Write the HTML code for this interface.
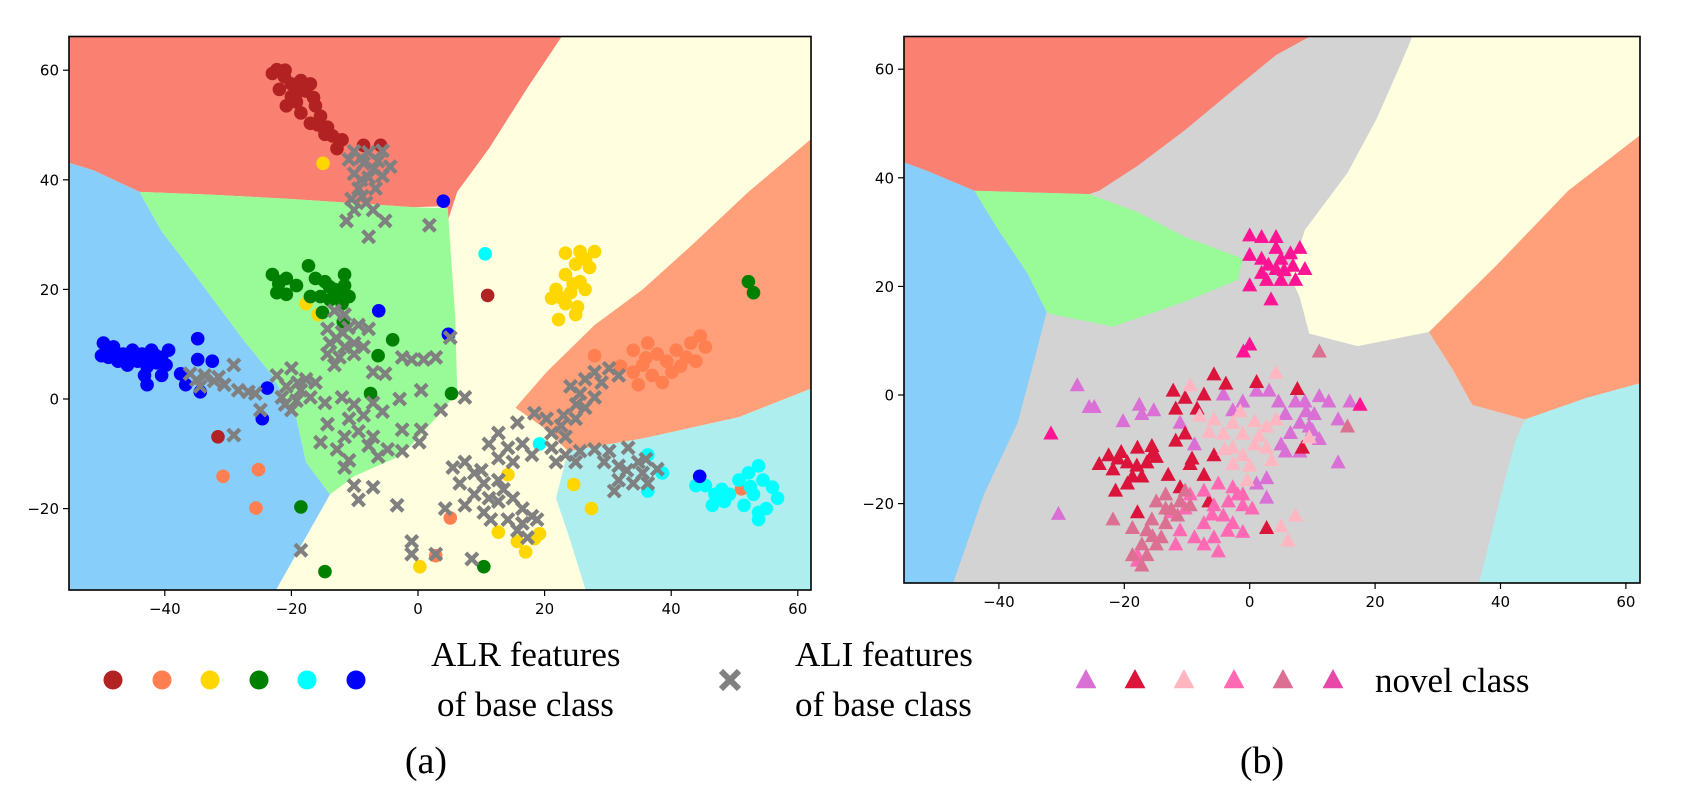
<!DOCTYPE html>
<html><head><meta charset="utf-8"><style>
html,body{margin:0;padding:0;background:#fff;}
svg{display:block;}
.tk{font-family:"DejaVu Sans","Liberation Sans",sans-serif;font-size:15px;fill:#000;}
.lg{font-family:"Liberation Serif",serif;font-size:35px;fill:#000;}
</style></head><body>
<svg id="fig" width="1691" height="797" viewBox="0 0 1691 797" xmlns="http://www.w3.org/2000/svg">
<defs>
<clipPath id="clipA"><rect x="69" y="36.5" width="742" height="553.5"/></clipPath>
<clipPath id="clipB"><rect x="904" y="36.5" width="736" height="546.5"/></clipPath>
</defs>
<g id="panelA"></g>
<g id="panelB"></g>
<g id="legend">
  <text class="lg" x="431" y="666">ALR features</text>
  <text class="lg" x="437" y="716">of base class</text>
  <text class="lg" x="795" y="666">ALI features</text>
  <text class="lg" x="795" y="716">of base class</text>
  <text class="lg" x="1375" y="692">novel class</text>
  <text class="lg" x="426" y="773" text-anchor="middle" style="font-size:38px">(a)</text>
  <text class="lg" x="1262" y="773" text-anchor="middle" style="font-size:38px">(b)</text>
</g>
</svg>
<script>
// ---------- data ----------
const xTicks = [-40,-20,0,20,40,60];
const yTicks = [60,40,20,0,-20];
const yTickLabels = ['60','40','20','0','\u221220'];
const xTickLabels = ['\u221240','\u221220','0','20','40','60'];

const baseColors = ['#b22222','#ff7f50','#ffd700','#008000','#00ffff','#0000ff'];
const novelColors = ['#da70d6','#dc143c','#ffb6c1','#ff69b4','#db7093','#e848a8'];

// decision regions panel a (data coords)
const regionAred = [[-56,67],[23.2,67],[17.3,56.8],[11.2,45.7],[6.2,37.8],[4.7,32.5],[4.3,35.2],[-0.6,35],[-20,36.5],[-32.9,37.3],[-44,37.8],[-51.2,41.7],[-56,43.4]];
const regionAblue = [[-56,43.4],[-51.2,41.7],[-44,37.8],[-40.5,30.6],[-34.4,21.4],[-27.6,10.8],[-23,4.3],[-19.2,-3.6],[-17.7,-11.5],[-13.9,-17.4],[-23,-36],[-56,-36]];
const regionAgreen = [[-44,37.8],[-32.9,37.3],[-20,36.5],[-0.6,35],[4.7,34.8],[5.1,27.9],[5.9,14.8],[6.2,1.6],[4.3,-1.6],[-2.5,-10.2],[-10.1,-14.1],[-13.9,-17.4],[-17.7,-11.5],[-19.2,-3.6],[-23,4.3],[-27.6,10.8],[-34.4,21.4],[-40.5,30.6]];
const regionAorange = [[63,48.3],[52.2,37.8],[43.1,27.9],[35.5,20],[27.9,13.5],[20.3,4.9],[15.4,-1.6],[20.3,-5.6],[23.7,-9.5],[35.5,-7.2],[50.7,-3.3],[63,2.3]];
const regionAcyan = [[23.7,-9.5],[35.5,-7.2],[50.7,-3.3],[63,2.3],[63,-36],[26.8,-36],[24.1,-26],[21.8,-18.1]];

// decision regions panel b
const regionBred = [[-56,67],[11.1,67],[4.2,62.6],[-2.7,56.1],[-10.3,48.8],[-17.9,42.2],[-24,37.6],[-25.6,37],[-43.9,37.6],[-51.5,41.3],[-56,43.2]];
const regionBblue = [[-56,43.2],[-51.5,41.3],[-43.9,37.6],[-40.1,30.4],[-35.5,22.5],[-32.4,15.3],[-34,8],[-37,-5.1],[-42.4,-18.3],[-47.7,-36],[-56,-36]];
const regionBgreen = [[-43.9,37.6],[-25.6,37],[-17.9,33.7],[-10.3,29.1],[-1.1,25.1],[-1.9,21.2],[-10.3,17.2],[-21.8,12.6],[-31.7,14.9],[-32.4,15.3],[-35.5,22.5],[-40.1,30.4]];
const regionByellow = [[26.3,67],[63,67],[63,48.5],[50.8,37.6],[39.3,23.8],[28.6,11.6],[17.2,9],[9.5,11.3],[8,17.9],[6.5,21.8],[8.8,30.4],[15.6,40.9],[20.2,50.8],[24,60.7]];
const regionBorange = [[63,48.5],[63,2.4],[53.8,-0.5],[43.9,-4.5],[35.5,-1.8],[32.4,4.7],[28.6,11.6],[39.3,23.8],[50.8,37.6]];
const regionBcyan = [[43.9,-4.5],[53.8,-0.5],[63,2.4],[63,-36],[36.3,-36],[40.1,-18.3],[42.4,-8.4]];

// ALR base features (panel a), one array per class
const alrBrown = [[-22.3,60.1],[-21.1,58.8],[-21.9,56.5],[-20,57.5],[-18.5,58.1],[-17.7,56.2],[-19.2,54.2],[-20.8,53.5],[-18.5,52.2],[-16.2,53.5],[-15.4,51.6],[-17,50.3],[-14.3,49.6],[-14.7,48.3],[-12,47.3],[-12.8,45.7],[-8.6,46.3],[-5.9,46.3],[-23,59.4],[-17,57.5],[-20,55.2],[-21,60],[-19,56],[-16.5,55],[-15.8,50],[-13.5,48],[11,18.9],[-31.6,-6.9]];
const alrOrange = [[27.9,7.9],[34,8.9],[36.3,10.2],[37.8,8.2],[35.5,6.2],[39.3,6.9],[40.8,8.9],[43.1,10.2],[44.6,11.5],[45.4,9.5],[42.4,7.6],[40.1,4.9],[37,4.3],[34,4.9],[34.8,2.6],[38.6,3],[43.9,6.9],[32,6],[36,7.5],[41.5,6],[-30.8,-14.1],[-25.2,-12.9],[-25.6,-19.9],[5.1,-21.7],[2.8,-28.6],[51.1,-16.4]];
const alrYellow = [[23.3,26.6],[25.6,26.9],[27.9,26.9],[24.9,24.6],[27.1,24],[23.3,22.7],[25.6,21.4],[21.8,20],[24.1,19.4],[26.4,20],[21.1,18.4],[23.3,17.4],[25.2,16.8],[24.9,15.4],[22.2,14.5],[26.5,25.5],[24.5,21],[22.5,18.5],[-15,43],[-17.7,17.4],[-15.8,15.4],[14.2,-13.8],[24.6,-15.6],[27.4,-20],[12.7,-24.3],[17,-27.9],[19.2,-24.6],[15.7,-26],[0.3,-30.6],[18.4,-25.5]];
const alrGreen = [[-23,22.7],[-21.9,21.4],[-20.8,22],[-19.2,20.7],[-22.3,19.4],[-20.8,19.1],[-17.3,24.3],[-16.2,22],[-14.7,21.4],[-13.2,20],[-11.6,22.7],[-11.6,20.7],[-10.9,18.7],[-15.4,18.7],[-13.9,18.1],[-12,17.4],[-17,18.7],[-15.1,15.8],[-11.8,14.1],[-22,21],[-12.5,19],[-14,20.5],[-4,10.8],[-6.3,7.9],[-7.5,1],[5.3,1],[-18.5,-19.7],[-14.7,-31.5],[10.4,-30.6],[52.2,21.4],[53,19.4]];
const alrCyan = [[45.4,-15.8],[46.9,-17.4],[48.4,-18.7],[46.5,-19.4],[50.7,-14.8],[52.2,-13.5],[53.8,-12.2],[54.5,-14.8],[56,-16.1],[56.8,-18.1],[53,-17.4],[51.5,-19.4],[53.8,-20.7],[53.8,-22],[49.2,-17.4],[43.9,-15.8],[55,-20],[52.5,-16],[48,-16.5],[36.3,-10.2],[38.6,-13.5],[36.3,-16.8],[19.2,-8.2],[10.6,26.5]];
const alrBlue = [[-49.7,10.2],[-48.1,9.5],[-46.6,8.2],[-45.1,8.9],[-43.6,8.2],[-42.1,8.9],[-40.5,7.6],[-39.4,8.9],[-48.9,7.6],[-47.4,6.9],[-45.9,6.2],[-44.3,6.9],[-42.8,5.9],[-41.3,6.6],[-39.8,6.2],[-50,7.9],[-49,9],[-47,8],[-44.5,8],[-41.5,8],[-46,7.2],[-43,7],[-43.2,4.3],[-42.8,2.6],[-40.5,4.3],[-34.8,11],[-34.8,7.2],[-32.5,6.9],[-37.5,4.6],[-36.7,2.6],[-34.4,1.3],[-24.6,-3.6],[-23.8,2],[4,36.1],[-6.2,16.1],[4.8,11.8],[44.5,-14.1]];
const alrSeries = [alrBrown, alrOrange, alrYellow, alrGreen, alrCyan, alrBlue];

// ALI base features (gray crosses, panel a)
const aliPoints = [
 [-10.1,45.2],[-7.8,45],[-5.6,45.3],[-10.9,43.7],[-8.6,43],[-6.3,43.4],[-4.4,42.4],[-10.1,41.1],[-7.8,40.4],[-5.6,40.7],[-9.4,38.4],[-6.7,38.4],[-10.5,36.5],[-8.2,35.8],[-10.1,34.5],[-7.1,34.5],[-11.3,32.5],[-5.2,32.5],[-7.8,29.6],[1.8,31.7],[-9,44],[-7,42],[-9,40],[-8.8,37],
 [-13.2,16.1],[-11.6,15.4],[-14.3,12.8],[-12,12.2],[-9.4,13.5],[-7.8,12.8],[-13.9,10.2],[-11.6,9.5],[-10.1,10.2],[-14.3,8.2],[-12.4,7.6],[-10.1,8.2],[-8.6,9.5],[-13.2,6.2],[-7.1,4.9],[-5.2,4.6],[-2.5,7.6],[-1,7.2],[0.9,7.2],[2.8,7.6],[5.1,11.2],[-12.8,11],[-11,13],
 [-36,4.6],[-33.7,4.3],[-34.4,2.3],[-32.2,3.3],[-30.6,2.6],[-29.1,6.2],[-28.4,1.6],[-26.8,1.3],[-25.7,1],[-24.9,-2],[-29.1,-6.6],[-35,3.5],[-31.5,4],
 [-22.3,4.3],[-20,5.6],[-17.7,3.6],[-16.2,3],[-20.8,2.3],[-18.5,1.6],[-21.5,0.3],[-19.2,-0.3],[-17,0.3],[-20,-2],[-14.7,-0.7],[-12,0.3],[-19,3],[-21,-1],
 [-10.1,-1],[-7.1,-0.7],[-2.9,0],[0.5,1.6],[3.6,-2],[7.4,0.3],[-10.9,-3.6],[-8.6,-3],[-5.6,-2.3],[-14.3,-4.6],[-11.6,-6.9],[-9.4,-5.9],[-7.1,-6.9],[-2.5,-5.6],[0.5,-5.6],[-15.4,-7.9],[-12.8,-9.2],[-7.8,-8.5],[-4.8,-9.2],[0.2,-7.9],[-2.5,-9.5],[-10.9,-11.2],[-11.6,-12.5],[-6.3,-10.5],[-10.1,-15.8],[-7.1,-16.1],[-9.4,-18.4],[-3.3,-19.4],[-18.5,-27.6],
 [24.1,2.3],[26.4,3.6],[27.9,4.9],[30.2,5.6],[31.7,4.3],[25.6,1],[27.9,0.3],[26.4,-1.6],[24.9,-3.6],[22.6,-4.9],[20.3,-3.6],[18.4,-2.6],[15.7,-4.3],[21.1,-6.2],[23.3,-6.9],[29,3],[25,-1],[23,-3],
 [12.7,-6.2],[11.2,-8.2],[14.2,-8.9],[16.5,-8.2],[18,-10.2],[12.7,-10.8],[15,-11.5],[7.4,-11.5],[5.5,-12.5],[8.9,-13.5],[10.4,-15.4],[6.6,-15.4],[12.7,-14.8],[8.9,-17.4],[11.2,-18.1],[7.4,-19.4],[4.3,-20],[12.7,-18.7],[15,-18.1],[16.5,-20],[10.4,-20.7],[14.2,-22],[16.5,-22.7],[18,-21.4],[15.7,-24],[17.3,-25.3],[18.8,-22],[-1,-26],[-1,-28.3],[2.8,-28.3],[8.5,-29.2],[10,-13],[13.5,-16.5],[11.5,-22],
 [21.1,-8.9],[23.3,-10.2],[25.6,-9.5],[27.9,-9.2],[30.2,-9.5],[33.2,-8.9],[34.8,-11.5],[31.7,-12.2],[29.4,-11.5],[35.5,-13.5],[34,-15.4],[31.7,-14.8],[36.3,-15.4],[37.8,-12.8],[21.8,-11.5],[24.9,-11.5],[31,-16.8],[33,-13],[36,-11]
];

// novel class triangles (panel b), one array per class
const novelOrchid = [[-27.5,1.8],[-25.6,-2.2],[-24.8,-2.2],[-20.2,-4.8],[-17.6,-1.8],[-17.2,-3.5],[-15.3,-2.8],[-11.1,-5.1],[-8.8,-9.1],[-4.2,0.1],[-2.7,-2.8],[-1.1,-1.2],[1.1,0.8],[3.1,0.8],[4.6,-1.2],[7.3,-1.2],[8.8,-1.2],[11.1,-0.2],[12.6,-1.2],[10.3,-3.5],[5.7,-3.5],[8,-5.1],[9.5,-5.8],[11.1,-8.1],[5,-9.1],[5.7,-10.4],[8,-10.4],[14.1,-4.5],[16,-1.2],[14.1,-12.4],[2.7,-15.3],[1.1,-16.3],[2.7,-18.9],[-30.5,-21.9],[9,-3],[6.5,-7],[10,-6.5]];
const novelCrimson = [[-24,-12.7],[-22.5,-11.1],[-21,-11.7],[-21.8,-13.7],[-19.5,-12.4],[-17.9,-9.7],[-15.6,-9.4],[-16.4,-12.4],[-14.9,-11.4],[-18.7,-15],[-17.2,-15],[-21.4,-17.6],[-19.5,-16.3],[-13,-14.7],[-11.1,-17],[-9.5,-12.7],[-7.3,-14.7],[-5.7,-11.1],[-11.8,-8.4],[-10.3,-7.1],[-11.8,-2.5],[-10.3,-0.5],[-8.4,-2.5],[-7.3,0.1],[-12.2,0.8],[-5.7,3.8],[-3.8,2.1],[1.1,2.4],[7.6,1.1],[-17.9,-21.6],[-6.5,-19.6],[2.7,-24.5],[8.4,-9.7],[-9.2,-11.7],[-20.5,-10.5],[-18,-13],[-15.5,-10.8]];
const novelLightPink = [[-5.7,-4.5],[-4.2,-7.1],[-2.7,-5.1],[-1.1,-7.1],[0.8,-4.8],[2.7,-5.8],[4.2,-4.5],[-2.7,-9.7],[-1.1,-11.1],[0.8,-9.1],[2.7,-9.7],[0,-13],[-2.7,-12.7],[-0.4,-15.7],[4.2,4.1],[7.3,-22.2],[6.1,-26.8],[5,-24.2],[-9.5,1.8],[-8,-3.8],[-6.5,-6.8],[9.5,-7.8],[1.5,-7.5],[-1.5,-3],[3.5,-12],[-4,-10]];
const novelHotPink = [[-9.5,-18.3],[-7.3,-17.6],[-5,-16.3],[-2.7,-17],[-1.1,-18.3],[-3.4,-19.6],[-1.1,-20.3],[0.4,-20.9],[-5.7,-20.3],[-4.2,-22.2],[-2.7,-23.6],[-1.1,-25.2],[-7.3,-23.6],[-5.7,-26.2],[-8.8,-26.2],[-11.1,-24.9],[-12.6,-21.6],[-10.3,-20.9],[-7.3,-27.5],[-5,-28.8],[-17.9,-29.5],[-17.9,-30.5],[-1.9,-18.3],[-11.8,-27.5],[-6,-22],[-3.5,-25]];
const novelPaleViolet = [[-14.9,-19.6],[-13.4,-20.9],[-11.1,-19.6],[-9.5,-20.3],[-15.6,-22.9],[-13.4,-23.6],[-11.5,-22.2],[-16.4,-24.9],[-14.1,-26.2],[-17.2,-27.5],[-14.9,-27.5],[-16.4,-29.5],[-18.7,-29.5],[-17.2,-31.4],[-18.7,-24.5],[-21.8,-22.9],[11.1,8],[15.6,-5.8],[-13.4,-18.3],[-10.3,-17.6],[-12.5,-21],[-15.5,-26]];
const novelDeepPink = [[0,29.4],[1.9,29.1],[4.2,29.1],[0,25.8],[1.9,25.1],[4.2,27.1],[5,25.1],[6.5,26.1],[8,27.1],[6.9,23.8],[8.8,23.2],[1.9,22.5],[4.2,23.2],[2.7,21.2],[5,21.2],[7.3,21.2],[0,20.2],[3.4,17.6],[3,24],[5.5,23],[-31.7,-7.1],[0,9.3],[-1,8],[17.6,-1.8]];
const novelSeries = [novelOrchid, novelCrimson, novelLightPink, novelHotPink, novelPaleViolet, novelDeepPink];
const novelPlotColors = ['#da70d6','#dc143c','#ffb6c1','#ff69b4','#db7093','#ff1493'];

// ---------- rendering ----------
const NS = 'http://www.w3.org/2000/svg';
function mk(tag, attrs, parent){ const e=document.createElementNS(NS,tag); for(const k in attrs) e.setAttribute(k,attrs[k]); parent.appendChild(e); return e; }

const axA = {x:v=>418+v*6.33, y:v=>399-v*5.48, left:69, right:811, top:36.5, bottom:590};
const axB = {x:v=>1249.7+v*6.27, y:v=>395-v*5.43, left:904, right:1640, top:36.5, bottom:583};

function poly(g, ax, pts, fill, name){
  const p = mk('polygon',{points:pts.map(q=>ax.x(q[0]).toFixed(1)+','+ax.y(q[1]).toFixed(1)).join(' '), fill:fill}, g);
  
  
}
function axes(g, ax, prefix){
  const f = mk('rect',{x:ax.left,y:ax.top,width:ax.right-ax.left,height:ax.bottom-ax.top,fill:'none',stroke:'#000','stroke-width':1.6}, g);
  
  
  xTicks.forEach((t,i)=>{
    const X = ax.x(t);
    const l = mk('line',{x1:X,x2:X,y1:ax.bottom,y2:ax.bottom+6,stroke:'#000','stroke-width':1.2}, g);
    
    
    const tx = mk('text',{x:X,y:ax.bottom+24,'text-anchor':'middle',class:'tk'}, g);
    tx.textContent = xTickLabels[i];
    
    
  });
  yTicks.forEach((t,i)=>{
    const Y = ax.y(t);
    const l = mk('line',{x1:ax.left-6,x2:ax.left,y1:Y,y2:Y,stroke:'#000','stroke-width':1.2}, g);
    
    
    const tx = mk('text',{x:ax.left-10,y:Y+5.5,'text-anchor':'end',class:'tk'}, g);
    tx.textContent = yTickLabels[i];
    
    
  });
}
function circle(g, cx, cy, r, col, name){
  const c = mk('circle',{cx:cx,cy:cy,r:r,fill:col}, g);
  
  
}
function cross(g, cx, cy, s, name){
  const p = mk('path',{d:`M${cx-s},${cy-s}L${cx+s},${cy+s}M${cx-s},${cy+s}L${cx+s},${cy-s}`, stroke:'#808080','stroke-width':4.2,'stroke-linecap':'butt',fill:'none'}, g);
  
  
}
function tri(g, cx, cy, s, col, name){
  const p = mk('polygon',{points:`${cx},${cy-s} ${cx-s*0.95},${cy+s*0.75} ${cx+s*0.95},${cy+s*0.75}`, fill:col}, g);
  
  
}

// Panel A
const gA = document.getElementById('panelA');
const cA = mk('g',{'clip-path':'url(#clipA)'}, gA);
const bgA = mk('rect',{x:axA.left,y:axA.top,width:axA.right-axA.left,height:axA.bottom-axA.top,fill:'#ffffe0'}, cA);


poly(cA, axA, regionAred, '#fa8072', 'region-a-red');
poly(cA, axA, regionAblue, '#87cefa', 'region-a-blue');
poly(cA, axA, regionAgreen, '#98fb98', 'region-a-green');
poly(cA, axA, regionAorange, '#ffa07a', 'region-a-orange');
poly(cA, axA, regionAcyan, '#afeeee', 'region-a-cyan');
alrSeries.forEach((s,k)=>s.forEach(p=>circle(cA, axA.x(p[0]), axA.y(p[1]), 6.8, baseColors[k], 'alr-point')));
aliPoints.forEach(p=>cross(cA, axA.x(p[0]), axA.y(p[1]), 6, 'ali-cross'));
axes(gA, axA, 'a');

// Panel B
const gB = document.getElementById('panelB');
const cB = mk('g',{'clip-path':'url(#clipB)'}, gB);
const bgB = mk('rect',{x:axB.left,y:axB.top,width:axB.right-axB.left,height:axB.bottom-axB.top,fill:'#d3d3d3'}, cB);


poly(cB, axB, regionBred, '#fa8072', 'region-b-red');
poly(cB, axB, regionBblue, '#87cefa', 'region-b-blue');
poly(cB, axB, regionBgreen, '#98fb98', 'region-b-green');
poly(cB, axB, regionByellow, '#ffffe0', 'region-b-yellow');
poly(cB, axB, regionBorange, '#ffa07a', 'region-b-orange');
poly(cB, axB, regionBcyan, '#afeeee', 'region-b-cyan');
novelSeries.forEach((s,k)=>s.forEach(p=>tri(cB, axB.x(p[0]), axB.y(p[1]), 8, novelPlotColors[k], 'novel-triangle')));
axes(gB, axB, 'b');

// Legend markers
const lg = document.getElementById('legend');
const legCircleX = [113,162,210,259,307,356];
baseColors.forEach((c,i)=>circle(lg, legCircleX[i], 680, 9.5, c, 'legend-base-marker'));
const lc = mk('path',{d:'M721,671L739,689M721,689L739,671',stroke:'#808080','stroke-width':6,fill:'none'}, lg);


const legTriX = [1086,1135,1184,1234,1283,1333];
novelColors.forEach((c,i)=>tri(lg, legTriX[i], 680, 11, c, 'legend-novel-marker'));
</script>
</body></html>
